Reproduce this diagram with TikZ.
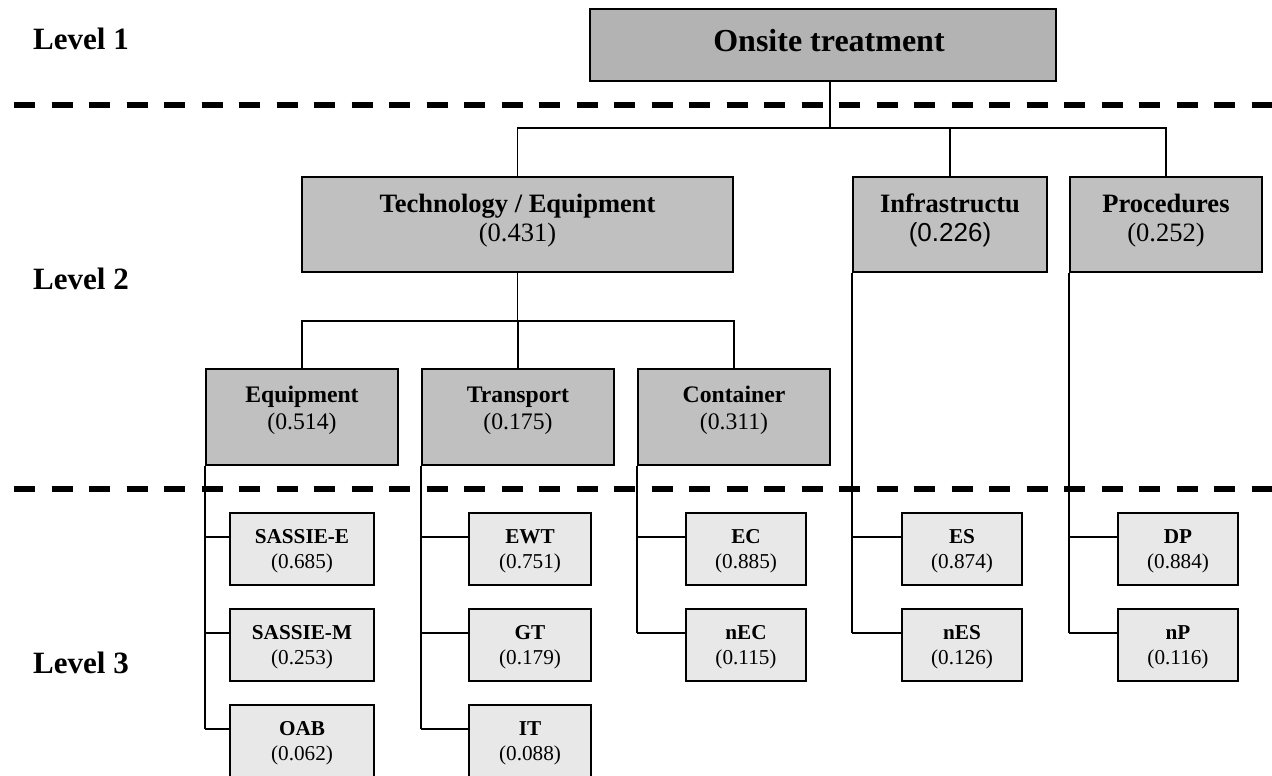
\documentclass[tikz,border=0pt]{standalone}
\usepackage{fontspec}
\setmainfont{Liberation Serif}
\newfontfamily\arialfont{Liberation Sans}

\definecolor{rootgray}{HTML}{B3B3B3}
\definecolor{midgray}{HTML}{C0C0C0}
\definecolor{leafgray}{HTML}{E8E8E8}

% One leaf of the hierarchy: name, centre x, top y, width, label, weight
\newcommand\leafbox[6]{%
  \node[leaf, minimum width=#4] (#1) at (#2,#3+36) {};
  \node[leaflbl] (#1-l) at (#2,#3+30) {#5};
  \node[leafnum] (#1-n) at (#2,#3+55) {#6};
  \coordinate (#1-p) at ([yshift=12pt]#1.west);
}

\begin{document}
\begin{tikzpicture}[x=1pt, y=-1pt,
  boxline/.style={draw=black, line width=1.8pt, inner sep=0pt},
  rootbox/.style={boxline, fill=rootgray, minimum width=466pt, minimum height=72pt},
  catbox/.style={boxline, fill=midgray, minimum height=95pt},
  subbox/.style={boxline, fill=midgray, minimum width=192pt, minimum height=96pt},
  leaf/.style={boxline, fill=leafgray, minimum height=72pt},
  conn/.style={draw=black, line width=1.5pt},
  levelsep/.style={draw=black, line width=6pt, dash pattern=on 21pt off 16.5pt, dash phase=23.5pt},
  levellbl/.style={anchor=base west, inner sep=0pt, font=\fontsize{31}{36}\selectfont\bfseries},
  rootlbl/.style={anchor=base, inner sep=0pt, font=\fontsize{32}{38}\selectfont\bfseries},
  catlbl/.style={anchor=base, inner sep=0pt, font=\fontsize{26.5}{31}\selectfont\bfseries},
  catnum/.style={anchor=base, inner sep=0pt, font=\fontsize{26.5}{31}\selectfont},
  sublbl/.style={anchor=base, inner sep=0pt, font=\fontsize{23.7}{28}\selectfont\bfseries},
  subnum/.style={anchor=base, inner sep=0pt, font=\fontsize{23.7}{28}\selectfont},
  leaflbl/.style={anchor=base, inner sep=0pt, font=\fontsize{21.2}{25}\selectfont\bfseries},
  leafnum/.style={anchor=base, inner sep=0pt, font=\fontsize{21.2}{25}\selectfont},
]
\useasboundingbox (0,0) rectangle (1272,776);

% level separators
\coordinate (sepA-l) at (0,105);
\coordinate (sepA-r) at (1272,105);
\coordinate (sepB-l) at (0,489);
\coordinate (sepB-r) at (1272,489);
\draw[levelsep] (sepA-l) -- (sepA-r);
\draw[levelsep] (sepB-l) -- (sepB-r);

% level captions
\node[levellbl] (lv1) at (33,50) {Level 1};
\node[levellbl] (lv2) at (33,289) {Level 2};
\node[levellbl] (lv3) at (33,673) {Level 3};

% level 1
\node[rootbox] (root) at (823,45) {};
\node[rootlbl] (root-l) at (829,52) {Onsite treatment};

% level 2: categories
\node[catbox, minimum width=431pt] (tech) at (517.5,224.5) {};
\node[catlbl] (tech-l) at (517.5,212) {Technology / Equipment};
\node[catnum] (tech-n) at (517.5,241) {(0.431)};

\node[catbox, minimum width=194pt] (infra) at (950,224.5) {};
\node[catlbl] (infra-l) at (950,212) {Infrastructu};
\node[catnum, font=\fontsize{26}{31}\selectfont\arialfont] (infra-n) at (950,241) {(0.226)};

\node[catbox, minimum width=192pt] (proc) at (1166,224.5) {};
\node[catlbl] (proc-l) at (1166,212) {Procedures};
\node[catnum] (proc-n) at (1166,241) {(0.252)};

% level 2: technology sub-criteria
\node[subbox] (equip) at (302,417) {};
\node[sublbl] (equip-l) at (302,402) {Equipment};
\node[subnum] (equip-n) at (302,429) {(0.514)};

\node[subbox] (trans) at (518,417) {};
\node[sublbl] (trans-l) at (518,402) {Transport};
\node[subnum] (trans-n) at (518,429) {(0.175)};

\node[subbox] (cont) at (734,417) {};
\node[sublbl] (cont-l) at (734,402) {Container};
\node[subnum] (cont-n) at (734,429) {(0.311)};

% level 3: alternatives
\leafbox{sasE}{302}{513}{144pt}{SASSIE-E}{(0.685)}
\leafbox{sasM}{302}{609}{144pt}{SASSIE-M}{(0.253)}
\leafbox{oab}{302}{705}{144pt}{OAB}{(0.062)}
\leafbox{ewt}{530}{513}{122pt}{EWT}{(0.751)}
\leafbox{gt}{530}{609}{122pt}{GT}{(0.179)}
\leafbox{it}{530}{705}{122pt}{IT}{(0.088)}
\leafbox{ec}{746}{513}{120pt}{EC}{(0.885)}
\leafbox{nec}{746}{609}{120pt}{nEC}{(0.115)}
\leafbox{es}{962}{513}{120pt}{ES}{(0.874)}
\leafbox{nes}{962}{609}{120pt}{nES}{(0.126)}
\leafbox{dp}{1178}{513}{120pt}{DP}{(0.884)}
\leafbox{np}{1178}{609}{120pt}{nP}{(0.116)}

% tree connectors: level 1 to level 2
\coordinate (bus1) at (830,128);
\coordinate (rootport) at (830,81);
\draw[conn] (rootport) -- (bus1);
\draw[conn] (tech.north) |- (proc.north |- bus1) -- (proc.north);
\draw[conn] (infra.north) -- (infra.north |- bus1);

% technology to its sub-criteria
\coordinate (bus2) at (517.5,321);
\draw[conn] (tech.south) -- (bus2);
\draw[conn] (equip.north) |- (cont.north |- bus2) -- (cont.north);
\draw[conn] (trans.north) -- (trans.north |- bus2);

% comb connectors down to the alternatives
\foreach \parent/\last/\kids in {%
    equip/oab/{sasE,sasM,oab},
    trans/it/{ewt,gt,it},
    cont/nec/{ec,nec},
    infra/nes/{es,nes},
    proc/np/{dp,np}} {
  \draw[conn] (\parent.south west) -- (\parent.south west |- \last-p);
  \foreach \k in \kids {
    \draw[conn] (\k-p) -- (\parent.south west |- \k-p);
  }
}
\end{tikzpicture}
\end{document}
